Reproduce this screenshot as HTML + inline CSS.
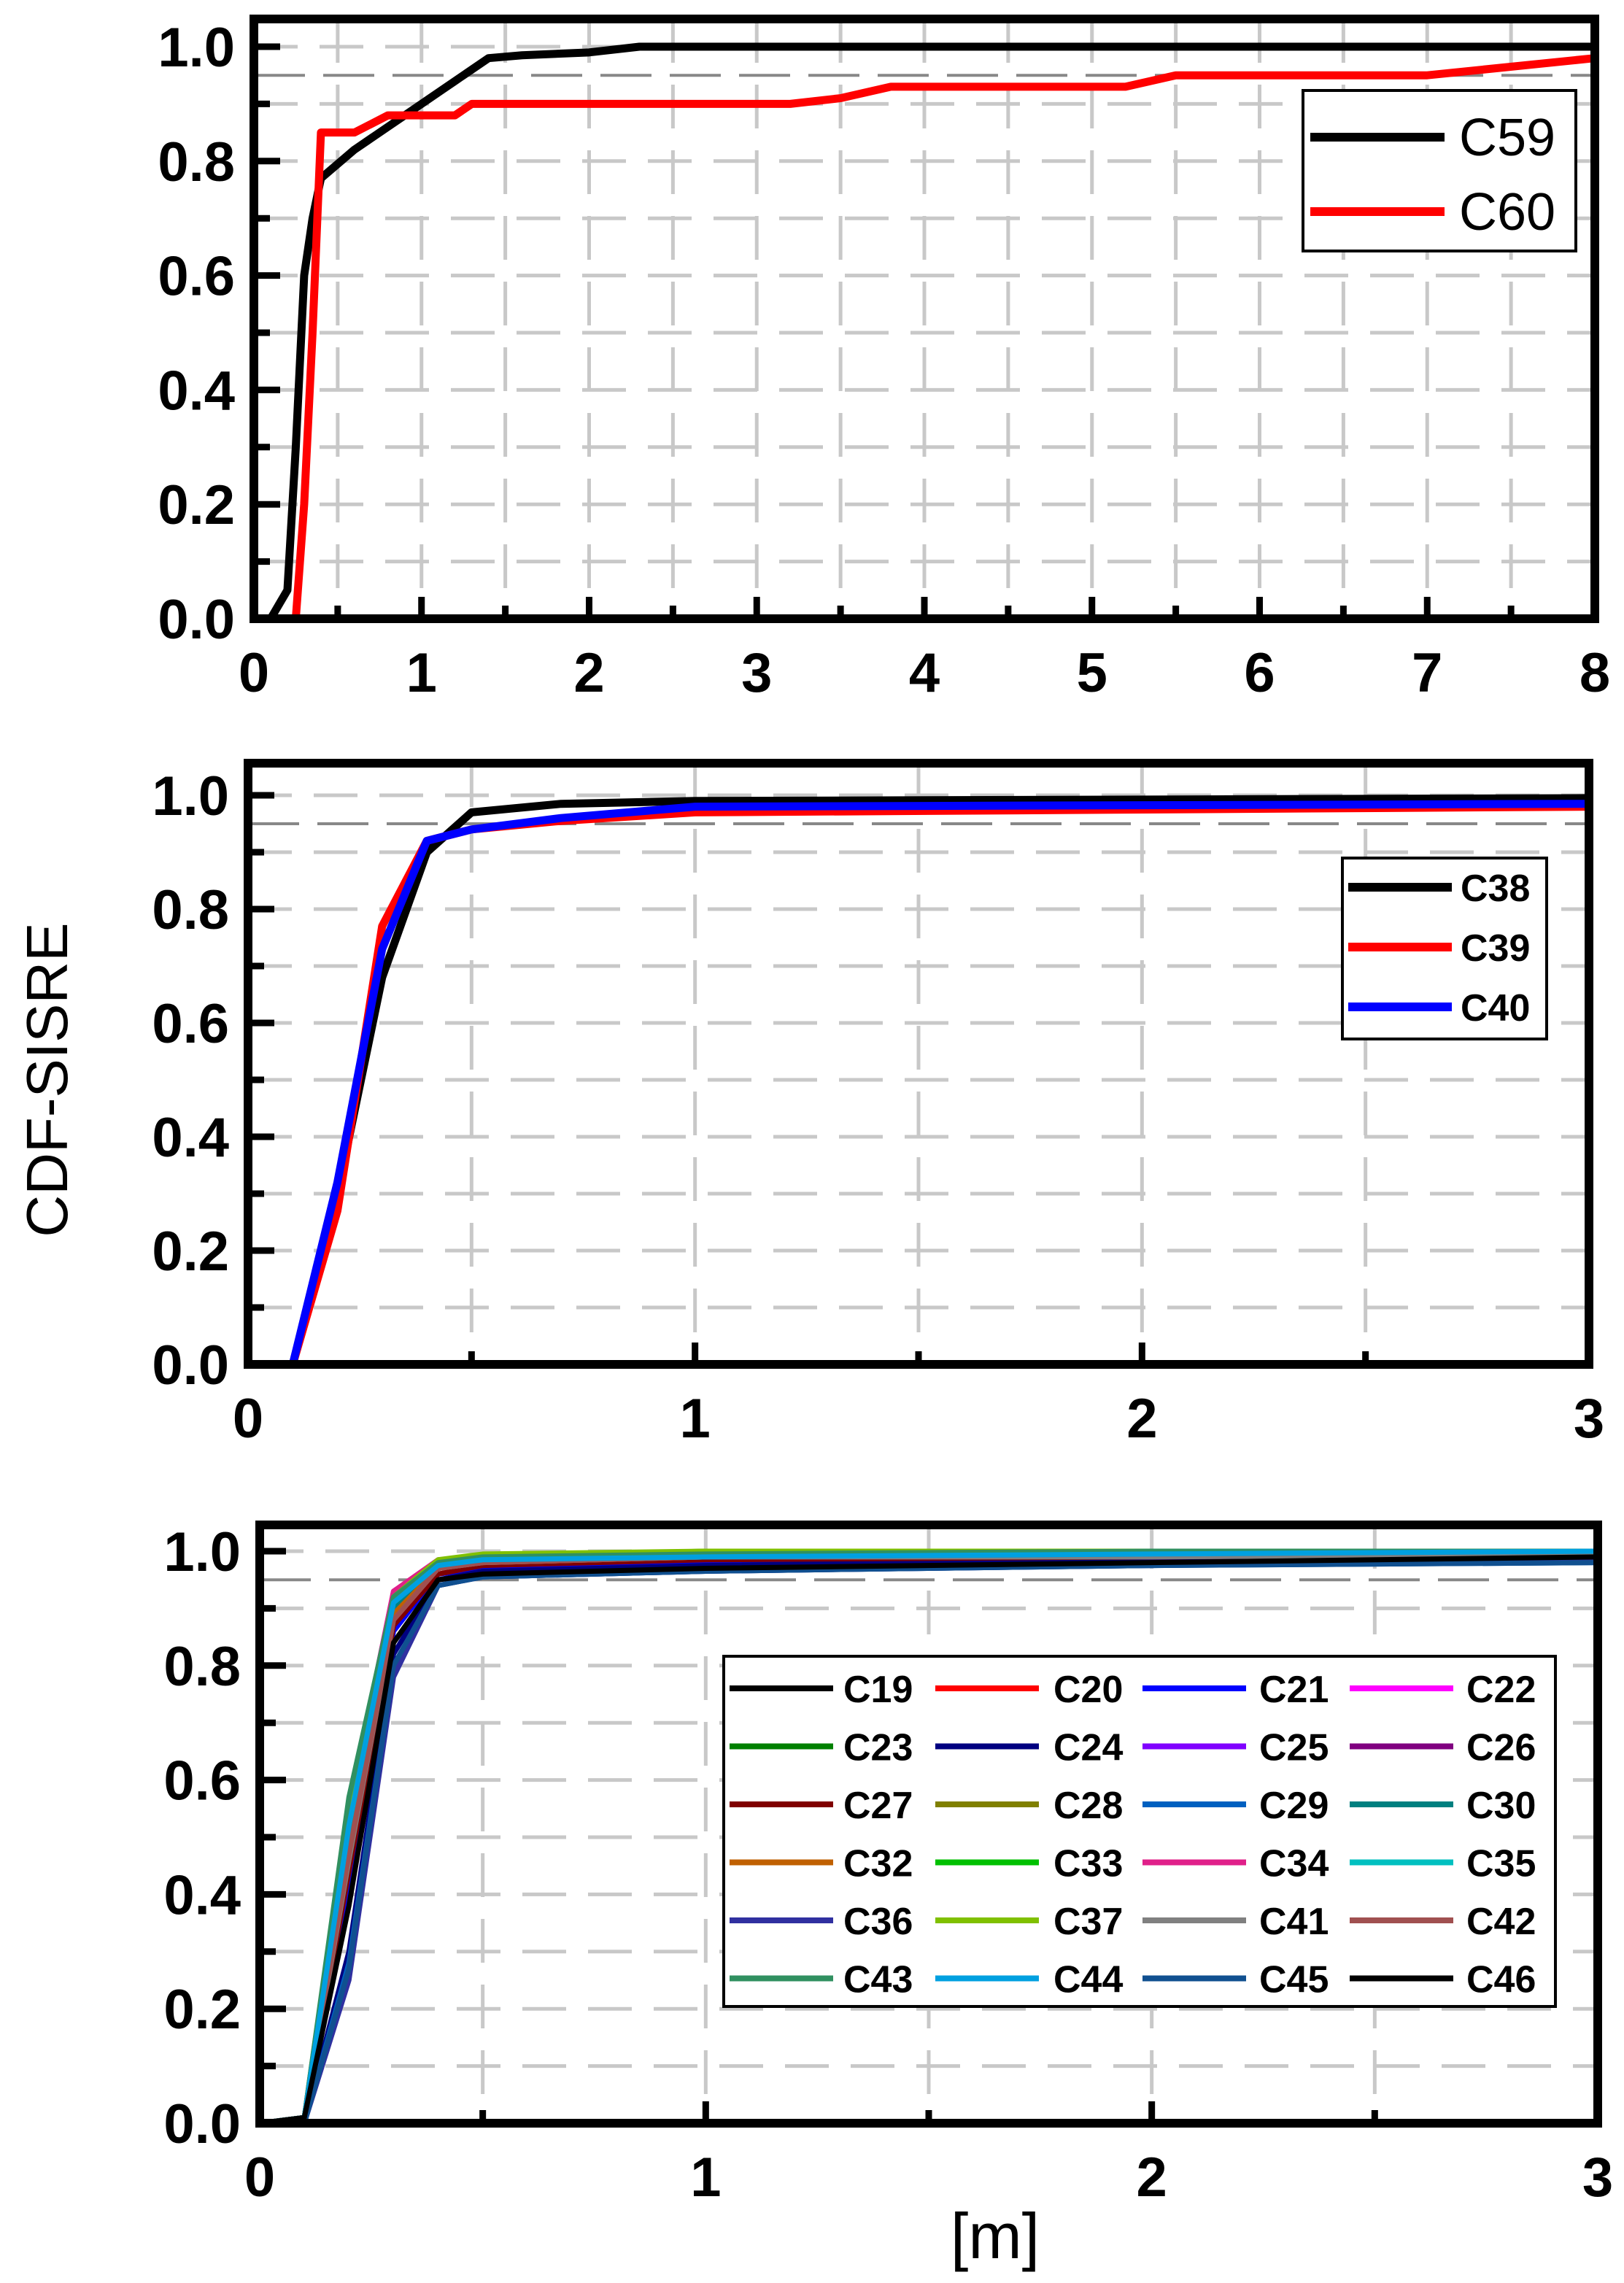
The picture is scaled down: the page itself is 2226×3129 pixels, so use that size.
<!DOCTYPE html>
<html><head><meta charset="utf-8"><style>
html,body{margin:0;padding:0;background:#fff;}
svg{display:block;font-family:"Liberation Sans",Arial,sans-serif;}
</style></head><body>
<svg id="fig" width="2226" height="3129" viewBox="0 0 2226 3129" xmlns="http://www.w3.org/2000/svg">
<text x="0" y="0" transform="translate(92,1480) rotate(-90)" font-size="80" text-anchor="middle">CDF-SISRE</text>
<text x="1364" y="3095" font-size="88" text-anchor="middle">[m]</text>
</svg>
<script>
// ---- Panel 1 data ----
const p1Names = ["C59","C60"];
const p1Colors = ["#000000","#ff0000"];
const p1X = [
 [0,0.1,0.2,0.25,0.3,0.35,0.4,0.6,0.8,1.0,1.2,1.4,1.6,2.0,2.3,8],
 [0,0.25,0.3,0.35,0.4,0.6,0.8,1.2,1.3,3.2,3.5,3.8,5.2,5.5,7,8]
];
const p1Y = [
 [0,0,0.05,0.3,0.6,0.7,0.77,0.82,0.86,0.9,0.94,0.98,0.985,0.99,1.0,1.0],
 [0,0,0.2,0.5,0.85,0.85,0.88,0.88,0.9,0.9,0.91,0.93,0.93,0.95,0.95,0.98]
];
// ---- Panel 2 data ----
const p2Names = ["C38","C39","C40"];
const p2Colors = ["#000000","#ff0000","#0000ff"];
const p2X = [0,0.1,0.2,0.3,0.4,0.5,0.7,1.0,3.0];
const p2Y = [
 [0,0,0.30,0.68,0.90,0.97,0.985,0.99,0.995],
 [0,0,0.27,0.77,0.92,0.94,0.955,0.97,0.98],
 [0,0,0.32,0.73,0.92,0.94,0.96,0.98,0.985]
];
// ---- Panel 3 data ----
const p3Names = ["C19","C20","C21","C22","C23","C24","C25","C26","C27","C28","C29","C30","C32","C33","C34","C35","C36","C37","C41","C42","C43","C44","C45","C46"];
const p3Colors = ["#000000","#ff0000","#0000ff","#ff00ff","#008000","#000080","#8000ff","#800080","#800000","#808000","#0060c0","#008080","#c06000","#00c000","#e0208a","#00c0c0","#3030a0","#80c000","#808080","#a05050","#309060","#00a0e0","#105090","#000000"];
const p3X = [0,0.1,0.2,0.3,0.4,0.5,1.0,2.0,3.0];
const p3Y = [
 [0,0.01,0.40,0.84,0.95,0.96,0.975,0.98,0.99],
 [0,0.01,0.45,0.88,0.97,0.98,0.99,0.995,1.0],
 [0,0.01,0.42,0.86,0.96,0.97,0.98,0.99,0.99],
 [0,0.01,0.55,0.93,0.98,0.99,0.995,1.0,1.0],
 [0,0.01,0.56,0.91,0.98,0.99,1.0,1.0,1.0],
 [0,0.00,0.30,0.82,0.95,0.965,0.975,0.985,0.99],
 [0,0.01,0.50,0.90,0.97,0.985,0.99,1.0,1.0],
 [0,0.01,0.48,0.89,0.97,0.98,0.99,0.995,1.0],
 [0,0.01,0.44,0.87,0.96,0.975,0.985,0.99,0.995],
 [0,0.01,0.52,0.91,0.98,0.99,0.995,1.0,1.0],
 [0,0.00,0.28,0.80,0.94,0.955,0.965,0.975,0.98],
 [0,0.01,0.50,0.90,0.97,0.985,0.99,0.995,1.0],
 [0,0.01,0.47,0.89,0.97,0.98,0.99,0.995,1.0],
 [0,0.01,0.54,0.92,0.98,0.99,0.995,1.0,1.0],
 [0,0.01,0.55,0.93,0.985,0.99,0.995,1.0,1.0],
 [0,0.01,0.53,0.92,0.98,0.99,0.995,1.0,1.0],
 [0,0.00,0.25,0.78,0.94,0.955,0.965,0.975,0.985],
 [0,0.01,0.53,0.92,0.985,0.995,1.0,1.0,1.0],
 [0,0.01,0.46,0.88,0.97,0.98,0.99,0.99,0.995],
 [0,0.01,0.47,0.88,0.97,0.98,0.99,0.995,1.0],
 [0,0.01,0.57,0.92,0.98,0.99,0.995,1.0,1.0],
 [0,0.01,0.52,0.91,0.975,0.985,0.99,0.995,1.0],
 [0,0.00,0.27,0.80,0.94,0.955,0.965,0.975,0.98],
 [0,0.01,0.38,0.84,0.95,0.96,0.97,0.98,0.99]
];
const yTicks = ["0.0","0.2","0.4","0.6","0.8","1.0"];
const xTicks1 = ["0","1","2","3","4","5","6","7","8"];
const xTicks23 = ["0","1","2","3"];

const NS="http://www.w3.org/2000/svg";
const svg=document.getElementById('fig');
function mk(tag,attrs,parent){const e=document.createElementNS(NS,tag);for(const k in attrs)e.setAttribute(k,attrs[k]);(parent||svg).appendChild(e);return e;}

function panel(cfg){
  const g=mk('g',{});
  
  
  const {L,R,T,B,y1,xmax}=cfg;
  const sx=v=>L+(v/xmax)*(R-L);
  const sy=v=>B-v*(B-y1);
  for(let i=1;i<=10;i++){const gl=mk('line',{x1:L,x2:R,y1:sy(i/10),y2:sy(i/10),stroke:'#c8c8c8','stroke-width':5,'stroke-dasharray':'60,30'},g);
    }
  for(let v=0.5;v<xmax;v+=0.5){const gl=mk('line',{x1:sx(v),x2:sx(v),y1:T,y2:B,stroke:'#c8c8c8','stroke-width':5,'stroke-dasharray':'60,30'},g);
    }
  const d95=mk('line',{x1:L,x2:R,y1:sy(0.95),y2:sy(0.95),stroke:'#888','stroke-width':4,'stroke-dasharray':'70,25'},g);
  
  cfg.series.forEach(s=>{
    const pts=s.x.map((xv,i)=>sx(xv)+','+sy(s.y[i])).join(' ');
    const pl=mk('polyline',{points:pts,fill:'none',stroke:s.color,'stroke-width':cfg.lw,'stroke-linejoin':'round'},g);
    
    
  });
  for(let i=0;i<=10;i++){const len=i%2===0?36:22;
    const t=mk('line',{x1:L,x2:L+len,y1:sy(i/10),y2:sy(i/10),stroke:'#000','stroke-width':9},g);
    }
  for(let v=0;v<=xmax+1e-9;v+=0.5){const len=Math.abs(v-Math.round(v))<1e-9?30:18;
    const t=mk('line',{x1:sx(v),x2:sx(v),y1:B,y2:B-len,stroke:'#000','stroke-width':9},g);
    }
  const fr=mk('rect',{x:L,y:T,width:R-L,height:B-T,fill:'none',stroke:'#000','stroke-width':12},g);
  
  yTicks.forEach(lbl=>{const t=mk('text',{x:L-26,y:sy(parseFloat(lbl))+27,'font-size':76,'font-weight':'bold','text-anchor':'end'},g);
    t.textContent=lbl;});
  cfg.xTicks.forEach(lbl=>{const t=mk('text',{x:sx(parseFloat(lbl)),y:B+100,'font-size':76,'font-weight':'bold','text-anchor':'middle'},g);
    t.textContent=lbl;});
  return g;
}

panel({name:'panel-c59-c60',L:348,R:2186,T:26,B:848,y1:64,xmax:8,lw:11,xTicks:xTicks1,
  series:p1Names.map((n,i)=>({name:n,color:p1Colors[i],x:p1X[i],y:p1Y[i]}))});
panel({name:'panel-c38-c40',L:340,R:2178,T:1046,B:1870,y1:1090,xmax:3,lw:11,xTicks:xTicks23,
  series:p2Names.map((n,i)=>({name:n,color:p2Colors[i],x:p2X,y:p2Y[i]}))});
panel({name:'panel-c19-c46',L:356,R:2190,T:2090,B:2910,y1:2126,xmax:3,lw:7,xTicks:xTicks23,
  series:p3Names.map((n,i)=>({name:n,color:p3Colors[i],x:p3X,y:p3Y[i]}))});

function legendBox(name,x,y,w,h){const r=mk('rect',{x:x,y:y,width:w,height:h,fill:'#fff',stroke:'#000','stroke-width':4});
  }
legendBox('legend-panel-1',1786,124,374,220);
p1Names.forEach((n,i)=>{const y=188+i*102;
  const l=mk('line',{x1:1796,x2:1980,y1:y,y2:y,stroke:p1Colors[i],'stroke-width':12});
  
  const t=mk('text',{x:2000,y:y+25,'font-size':72});t.textContent=n;
  });
legendBox('legend-panel-2',1840,1176,280,248);
p2Names.forEach((n,i)=>{const y=1216+i*82;
  const l=mk('line',{x1:1848,x2:1990,y1:y,y2:y,stroke:p2Colors[i],'stroke-width':12});
  
  const t=mk('text',{x:2002,y:y+19,'font-size':52,'font-weight':'bold'});t.textContent=n;
  });
legendBox('legend-panel-3',992,2270,1140,480);
const colLine=[1000,1282,1566,1850], colText=[1156,1444,1726,2010];
p3Names.forEach((n,i)=>{const r=Math.floor(i/4),c=i%4;const y=2314+r*79.5;
  const l=mk('line',{x1:colLine[c],x2:colLine[c]+142,y1:y,y2:y,stroke:p3Colors[i],'stroke-width':8});
  
  const t=mk('text',{x:colText[c],y:y+19,'font-size':52,'font-weight':'bold'});t.textContent=n;
  });
</script>
</body></html>
